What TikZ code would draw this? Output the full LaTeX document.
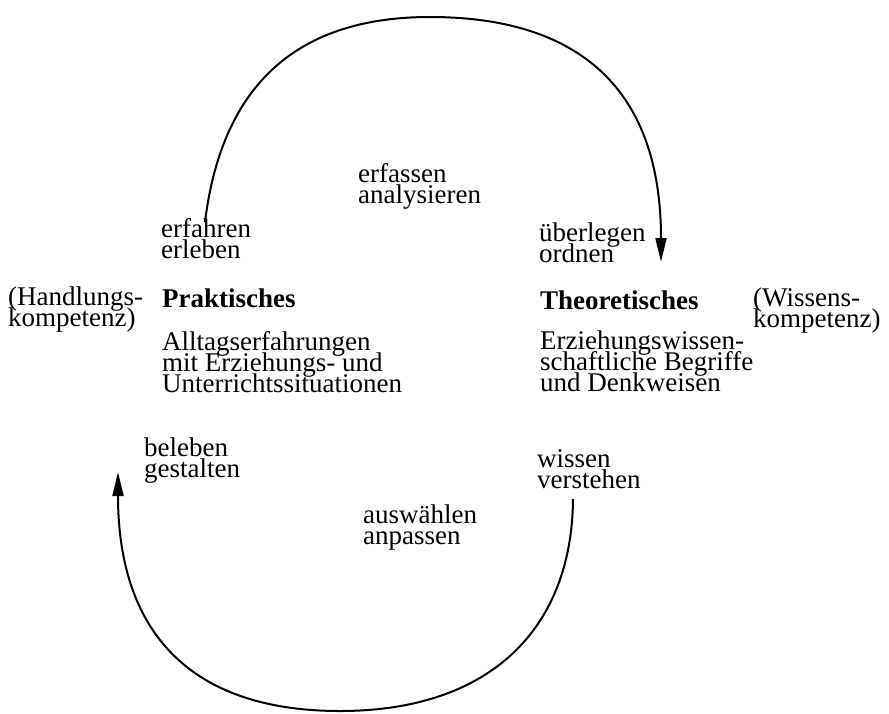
\documentclass[tikz,border=0pt]{standalone}
\usepackage{fontspec}
\setmainfont{Liberation Serif}
\usetikzlibrary{arrows.meta}
\newcommand{\lblfont}{\fontsize{27}{20.7}\selectfont\lineskiplimit-40pt\relax}
\begin{document}
\begin{tikzpicture}[x=1pt,y=-1pt,
  lbl/.style={inner sep=0pt,anchor=base west,align=left,font=\lblfont},
  boldlbl/.style={lbl,font=\lblfont\bfseries},
  cyc/.style={line width=2pt,-{Triangle[length=24pt,width=11pt]}}]
\useasboundingbox (0,0) rectangle (889,713);
% connector end points
\coordinate (t1) at (205,222);
\coordinate (ttop) at (430,17);
\coordinate (t2) at (661,262);
\coordinate (b1) at (573,499);
\coordinate (bbot) at (340,711);
\coordinate (b2) at (118,472);
\draw[cyc] (t1) .. controls (221,92) and (290,17) .. (ttop) .. controls (560,17) and (661,72) .. (t2);
\draw[cyc] (b1) .. controls (572,629) and (490,711) .. (bbot) .. controls (190,711) and (118,632) .. (b2);
% texts (anchor = baseline of the last line)
\node[lbl] (erf) at (358,203) {erfassen\\analysieren};
\node[lbl] (erl) at (161,258) {erfahren\\erleben};
\node[lbl] (ueb) at (539,262) {überlegen\\ordnen};
\node[lbl] (hk) at (8,326) {(Handlungs-\\kompetenz)};
\node[boldlbl] (prak) at (162,307) {Praktisches};
\node[lbl] (allt) at (162,392) {Alltagserfahrungen\\mit Erziehungs- und\\Unterrichtssituationen};
\node[boldlbl] (theo) at (540,309) {Theoretisches};
\node[lbl] (wk) at (753,327) {(Wissens-\\kompetenz)};
\node[lbl] (erz) at (540,391) {Erziehungswissen-\\schaftliche Begriffe\\und Denkweisen};
\node[lbl] (bel) at (144,477) {beleben\\gestalten};
\node[lbl] (wis) at (537,488) {wissen\\verstehen};
\node[lbl] (ausw) at (363,544) {auswählen\\anpassen};
\end{tikzpicture}
\end{document}
